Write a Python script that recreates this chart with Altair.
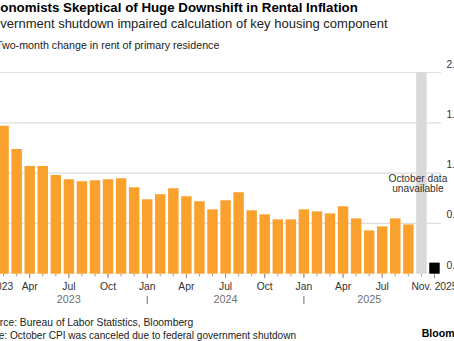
import altair as alt
import pandas as pd

FONT = "Liberation Sans"

# ---- data -------------------------------------------------------------
months = [
    "2023-01", "2023-02", "2023-03", "2023-04", "2023-05", "2023-06",
    "2023-07", "2023-08", "2023-09", "2023-10", "2023-11", "2023-12",
    "2024-01", "2024-02", "2024-03", "2024-04", "2024-05", "2024-06",
    "2024-07", "2024-08", "2024-09", "2024-10", "2024-11", "2024-12",
    "2025-01", "2025-02", "2025-03", "2025-04", "2025-05", "2025-06",
    "2025-07", "2025-08", "2025-09", "2025-10", "2025-11",
]
rent_change = [
    1.52, 1.47, 1.24, 1.07, 1.07, 0.98, 0.94, 0.92, 0.93, 0.94, 0.95, 0.86,
    0.74, 0.79, 0.85, 0.77, 0.72, 0.64, 0.73, 0.81, 0.63, 0.59, 0.54, 0.54,
    0.64, 0.62, 0.60, 0.67, 0.55, 0.43, 0.47, 0.55, 0.49, None, 0.11,
]
series = ["Two-month"] * 33 + ["Missing", "After shutdown"]

tick_months = ["2023-01", "2023-04", "2023-07", "2023-10",
               "2024-01", "2024-04", "2024-07", "2024-10",
               "2025-01", "2025-04", "2025-07", "2025-11"]
tick_labels = ["Jan. 2023", "Apr", "Jul", "Oct",
               "Jan", "Apr", "Jul", "Oct",
               "Jan", "Apr", "Jul", "Nov. 2025"]

y_ticks = [0, 0.5, 1, 1.5, 2]
y_tick_labels = ["0.0", "0.5", "1.0", "1.5", "2.0"]
grid_values = [0.5, 1, 1.5, 2]

years = ["2023", "2024", "2025"]
year_centers = ["2023-07", "2024-07", "2025-06"]
year_breaks = ["2024-01", "2025-01"]

gap_month = ["2025-10"]
gap_top = [2.0]

df = pd.DataFrame({"month": months, "value": rent_change, "series": series})
df = df.dropna(subset=["value"])

# ---- layout -------------------------------------------------------------
W = 457
H = 201.2

xscale = alt.Scale(domain=months, paddingInner=0.2, paddingOuter=0.1)
yscale = alt.Scale(domain=[0, 2])


def xenc():
    return alt.X("month:O", scale=xscale, axis=None)


grid = alt.Chart(pd.DataFrame({"v": grid_values})).mark_rule(
    color="#dedede", strokeWidth=1.2
).encode(
    y=alt.Y("v:Q", scale=yscale, axis=None),
    x=alt.value(0),
    x2=alt.value(W),
)

band = alt.Chart(pd.DataFrame({"month": gap_month, "top": gap_top})).mark_bar(
    color="#d9d9d9"
).encode(
    x=xenc(),
    y=alt.Y("top:Q", scale=yscale, axis=None),
)

bars = alt.Chart(df).mark_bar().encode(
    x=xenc(),
    y=alt.Y("value:Q", scale=yscale, axis=None),
    color=alt.Color(
        "series:N",
        scale=alt.Scale(domain=["Two-month", "After shutdown"], range=["#f9a12c", "#000000"]),
        legend=None,
    ),
)

minor_ticks = alt.Chart(pd.DataFrame({"month": months})).mark_rule(
    color="#8c8c8c", strokeWidth=1
).encode(x=xenc(), y=alt.value(H + 0.5), y2=alt.value(H + 2.5))

major_ticks = alt.Chart(pd.DataFrame({"month": tick_months})).mark_rule(
    color="#8c8c8c", strokeWidth=1
).encode(x=xenc(), y=alt.value(H + 0.5), y2=alt.value(H + 4.5))

x_labels = alt.Chart(pd.DataFrame({"month": tick_months, "lab": tick_labels})).mark_text(
    font=FONT, fontSize=10.3, color="#333333", align="center", baseline="alphabetic",
).encode(x=xenc(), y=alt.value(H + 16.3), text="lab:N")

y_labels = alt.Chart(pd.DataFrame({"v": y_ticks, "lab": y_tick_labels})).mark_text(
    font=FONT, fontSize=10.3, color="#333333", align="left", baseline="alphabetic", dy=-5,
).encode(x=alt.value(W + 5.5), y=alt.Y("v:Q", scale=yscale, axis=None), text="lab:N")

note = alt.Chart(pd.DataFrame({"month": gap_month, "t": ["October data\nunavailable"]})).mark_text(
    font=FONT, fontSize=10.2, color="#333333", align="center", baseline="alphabetic",
    lineBreak="\n", lineHeight=10, dx=-3.5,
).encode(x=xenc(), y=alt.value(109.2), text="t:N")

year_text = alt.Chart(pd.DataFrame({"month": year_centers, "year": years})).mark_text(
    font=FONT, fontSize=10.8, color="#707070", align="center", baseline="alphabetic",
).encode(x=xenc(), y=alt.value(H + 28.8), text="year:N")

year_sep = alt.Chart(pd.DataFrame({"month": year_breaks})).mark_rule(
    color="#707070", strokeWidth=1
).encode(x=xenc(), y=alt.value(H + 22.3), y2=alt.value(H + 30.3))


def text_layer(txt, x, y, size, weight="normal", color="#000000"):
    return alt.Chart(pd.DataFrame({"t": [txt]})).mark_text(
        font=FONT, fontSize=size, fontWeight=weight, color=color,
        align="left", baseline="alphabetic",
    ).encode(text="t:N", x=alt.value(x), y=alt.value(y))


title = text_layer("Economists Skeptical of Huge Downshift in Rental Inflation", 0, -60.2, 13.3, "bold", "#000000")
subtitle = text_layer("Government shutdown impaired calculation of key housing component", -1, -45, 13, "normal", "#222222")
unit = text_layer("Two-month change in rent of primary residence", 12, -23.1, 10.7, "normal", "#222222")
source = text_layer("Source: Bureau of Labor Statistics, Bloomberg", -2.5, 253.2, 10.3, "normal", "#222222")
footnote = text_layer("Note: October CPI was canceled due to federal government shutdown", -1, 266.5, 10.1, "normal", "#222222")
brand = text_layer("Bloomberg", 437.7, 264, 10.6, "bold", "#000000")

chart = alt.layer(
    grid, band, bars, minor_ticks, major_ticks, x_labels, y_labels, note,
    year_text, year_sep, title, subtitle, unit, source, footnote, brand
).properties(
    width=W,
    height=H,
    autosize=alt.AutoSizeParams(type="none"),
    padding={"left": -16, "top": 72.5, "right": 13, "bottom": 67.3},
    background="#ffffff",
).configure_view(stroke=None)

chart.save("out.html", embed_options={"renderer": "svg", "actions": False})
